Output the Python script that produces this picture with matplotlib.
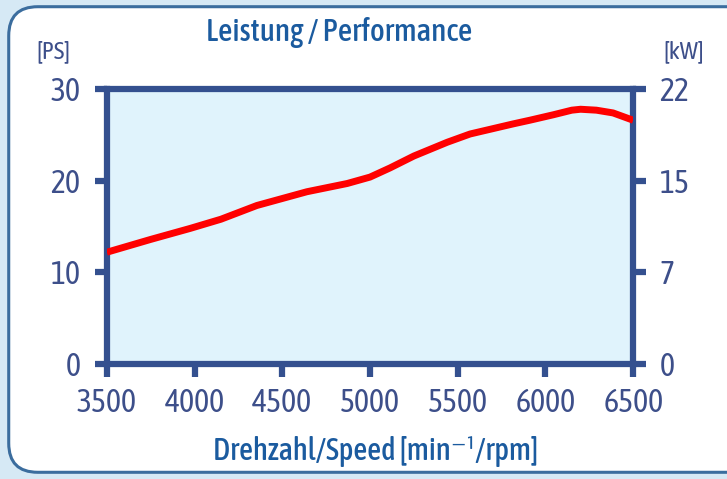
import numpy as np
import matplotlib
matplotlib.use("Agg")
import matplotlib.pyplot as plt
from matplotlib.patches import FancyBboxPatch

plt.rcParams['font.family'] = ['Asap Condensed', 'DejaVu Sans']

# data
rpm = [3500, 3750, 3975, 4150, 4355, 4640, 4870, 5000, 5114, 5250, 5440,
       5570, 5815, 5910, 6045, 6150, 6200, 6290, 6385, 6500]
ps = [12.2, 13.6, 14.8, 15.8, 17.3, 18.8, 19.7, 20.4, 21.4, 22.7, 24.2,
      25.1, 26.2, 26.6, 27.2, 27.7, 27.8, 27.7, 27.4, 26.6]

x_ticks = [3500, 4000, 4500, 5000, 5500, 6000, 6500]
ps_ticks = [0, 10, 20, 30]
kw_labels = ['0', '7', '15', '22']

navy = '#34508f'
tick_col = '#3d4f8a'
title_col = '#1b5b9f'

fig = plt.figure(figsize=(7.27, 4.79), dpi=100)
fig.patch.set_facecolor('#d6e9f5')

# rounded white card with dark border
card = FancyBboxPatch((0.012, 0.014), 1.1, 0.972, boxstyle="round,pad=0,rounding_size=0.04",
                      transform=fig.transFigure, facecolor='white', edgecolor='#3b6d9e',
                      linewidth=2.2, mutation_aspect=727 / 479, zorder=-10)
fig.patches.append(card)

ax = fig.add_axes([0.147, 0.240, 0.724, 0.574])
ax.set_facecolor('#e0f3fc')
ax.plot(rpm, ps, color='#ff0000', linewidth=5, solid_capstyle='butt', zorder=3)

ax.set_xlim(3500, 6500)
ax.set_ylim(0, 30)
ax.set_xticks(x_ticks)
ax.set_yticks(ps_ticks)
for s in ax.spines.values():
    s.set_color(navy)
    s.set_linewidth(4.5)
ax.tick_params(axis='both', colors=navy, width=4.5, length=9, direction='out',
               labelsize=23, labelcolor=tick_col, pad=8)
ax.tick_params(axis='y', pad=10)

ax2 = ax.twinx()
ax2.set_ylim(0, 30)
ax2.set_yticks(ps_ticks)
ax2.set_yticklabels(kw_labels)
for s in ax2.spines.values():
    s.set_visible(False)
ax2.tick_params(axis='y', colors=navy, width=4.5, length=9, direction='out',
                labelsize=23, labelcolor=tick_col, pad=10)

fig.text(0.466, 0.933, 'Leistung / Performance', ha='center', va='center',
         fontsize=22.5, color=title_col, fontweight=500)
fig.text(0.073, 0.893, '[PS]', ha='center', va='center', fontsize=18, color=tick_col)
fig.text(0.941, 0.893, '[kW]', ha='center', va='center', fontsize=18, color=tick_col)
fig.text(0.516, 0.057, 'Drehzahl/Speed [min\u207b\u00b9/rpm]', ha='center',
         va='center', fontsize=22, color=title_col, fontweight=500)

fig.savefig('out.png', dpi=100, facecolor=fig.get_facecolor())
